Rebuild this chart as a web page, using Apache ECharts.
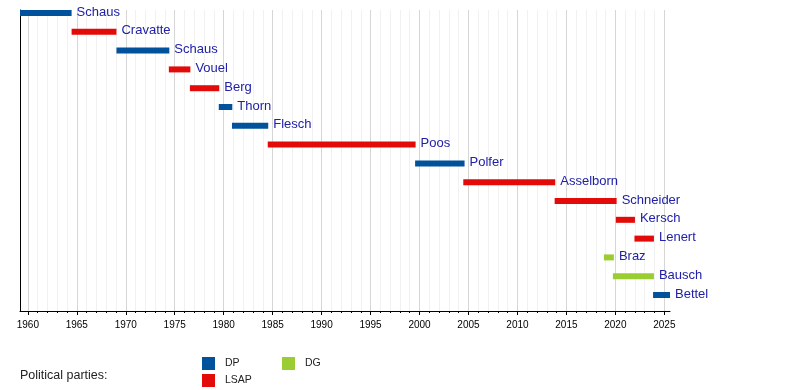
<!DOCTYPE html>
<html>
<head>
<meta charset="utf-8">
<script src="https://cdn.jsdelivr.net/npm/echarts@6/dist/echarts.min.js"></script>
<style>
html,body{margin:0;padding:0;background:#fff;}
#chart{width:800px;height:390px;}
</style>
</head>
<body>
<div id="chart"></div>
<script>
// ---- data ----
const names   = ['Schaus','Cravatte','Schaus','Vouel','Berg','Thorn','Flesch','Poos','Polfer','Asselborn','Schneider','Kersch','Lenert','Braz','Bausch','Bettel'];
const parties = ['DP','LSAP','DP','LSAP','LSAP','DP','DP','LSAP','DP','LSAP','LSAP','LSAP','LSAP','DG','DG','DP'];
const starts  = [1959.2, 1964.47, 1969.05, 1974.4, 1976.55, 1979.5, 1980.85, 1984.5, 1999.55, 2004.47, 2013.8, 2020.05, 2021.95, 2018.83, 2019.75, 2023.85];
const ends    = [1964.47, 1969.05, 1974.45, 1976.6, 1979.55, 1980.88, 1984.55, 1999.6, 2004.6, 2013.86, 2020.13, 2022.0, 2023.94, 2019.85, 2023.94, 2025.58];
const partyNames  = ['DP','LSAP','DG'];
const partyColors = ['#00529c','#e30a0a','#9acd32'];
const majorYears = [1960,1965,1970,1975,1980,1985,1990,1995,2000,2005,2010,2015,2020,2025];
const minorYears = [];
for (let y = 1960; y <= 2025; y++) if (y % 5 !== 0) minorYears.push(y);
const axisMin = 1959.2, axisMax = 2025.58;

const FONT = "'Liberation Sans', Arial, sans-serif";

function makeSeries(pi) {
  const data = [];
  names.forEach((n, i) => {
    if (parties[i] === partyNames[pi]) data.push([starts[i], ends[i], i, n]);
  });
  const color = partyColors[pi];
  return {
    type: 'custom',
    name: partyNames[pi],
    xAxisIndex: 0,
    z: 10,
    itemStyle: { color: color },
    encode: { x: [0, 1], y: 2 },
    data: data,
    renderItem: function (params, api) {
      const s = api.coord([api.value(0), api.value(2)]);
      const e = api.coord([api.value(1), api.value(2)]);
      const h = 6;
      return {
        type: 'group',
        children: [
          { type: 'rect', shape: { x: s[0], y: s[1] - h / 2, width: e[0] - s[0], height: h }, style: { fill: color } },
          { type: 'text', style: { text: api.value(3), x: e[0] + 5, y: s[1] - 1, verticalAlign: 'middle', align: 'left', fill: '#2020a8', font: '13px ' + FONT } }
        ]
      };
    }
  };
}

const chart = echarts.init(document.getElementById('chart'), null, { renderer: 'canvas' });
chart.setOption({
  backgroundColor: '#fff',
  animation: false,
  grid: { left: 20, right: 130, top: 10, bottom: 79 },
  xAxis: [
    {
      type: 'value', min: axisMin, max: axisMax, position: 'bottom',
      axisLine: { show: true, onZero: false, lineStyle: { color: '#000', width: 1 } },
      axisTick: { show: true, customValues: majorYears, length: 4, lineStyle: { color: '#000' } },
      axisLabel: { show: true, customValues: majorYears, margin: 9, fontSize: 10, color: '#000', fontFamily: FONT, formatter: v => String(Math.round(v)) },
      splitLine: { show: true, lineStyle: { color: '#d6d6d6', width: 1 } }
    },
    {
      type: 'value', min: axisMin, max: axisMax, position: 'top', offset: -301,
      axisLine: { show: false, onZero: false },
      axisTick: { show: true, inside: true, customValues: minorYears, length: 2, lineStyle: { color: '#000' } },
      axisLabel: { show: false },
      splitLine: { show: true, lineStyle: { color: '#f1f1f1', width: 1 } }
    }
  ],
  yAxis: {
    type: 'value', inverse: true, min: -0.16, max: 15.85,
    axisLine: { show: true, onZero: false, lineStyle: { color: '#000', width: 1 } },
    axisTick: { show: false }, axisLabel: { show: false }, splitLine: { show: false }
  },
  legend: [
    { data: ['DP'], left: 202, top: 357, padding: 0, orient: 'vertical', icon: 'rect', itemWidth: 13, itemHeight: 13, selectedMode: false,
      textStyle: { fontSize: 10.5, color: '#222', fontFamily: FONT, padding: [0, 0, 0, 5] } },
    { data: ['LSAP'], left: 202, top: 374, padding: 0, orient: 'vertical', icon: 'rect', itemWidth: 13, itemHeight: 13, selectedMode: false,
      textStyle: { fontSize: 10.5, color: '#222', fontFamily: FONT, padding: [0, 0, 0, 5] } },
    { data: ['DG'], left: 282, top: 357, padding: 0, orient: 'vertical', icon: 'rect', itemWidth: 13, itemHeight: 13, selectedMode: false,
      textStyle: { fontSize: 10.5, color: '#222', fontFamily: FONT, padding: [0, 0, 0, 5] } }
  ],
  graphic: [
    { type: 'text', left: 20, top: 369, style: { text: 'Political parties:', font: '12.5px ' + FONT, fill: '#222' } }
  ],
  series: [makeSeries(0), makeSeries(1), makeSeries(2)]
});
</script>
</body>
</html>
